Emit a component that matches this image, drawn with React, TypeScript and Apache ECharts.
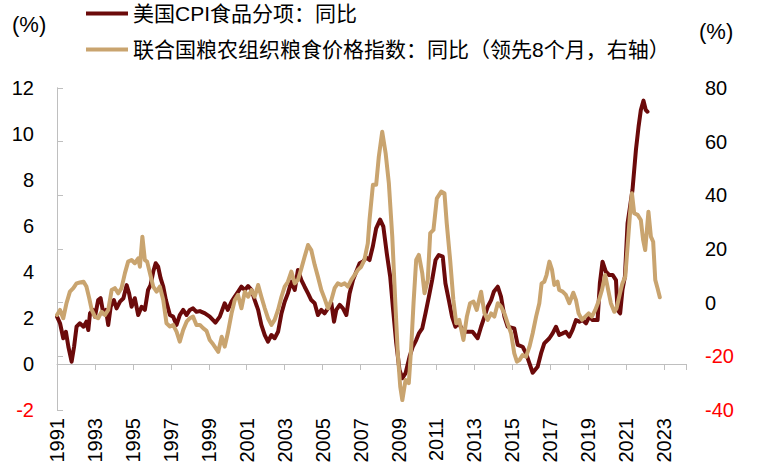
import React, { useEffect, useRef } from 'react';
import * as echarts from 'echarts';

const BASE_YEAR = 1991;
const yearLabels = ['1991', '1993', '1995', '1997', '1999', '2001', '2003', '2005', '2007', '2009', '2011', '2013', '2015', '2017', '2019', '2021', '2023'];
const leftTicks = [-2, 0, 2, 4, 6, 8, 10, 12];
const rightTicks = [-40, -20, 0, 20, 40, 60, 80];
const seriesNames = ['美国CPI食品分项：同比', '联合国粮农组织粮食价格指数：同比（领先8个月，右轴）'];

const cpiYears = [
  1991.0, 1991.16, 1991.33, 1991.47, 1991.6, 1991.77, 1991.9, 1992.03, 1992.2, 1992.4, 1992.55, 1992.65, 1992.74, 1992.9,
  1993.0, 1993.17, 1993.3, 1993.44, 1993.58, 1993.7, 1993.83, 1994.0, 1994.14, 1994.32, 1994.5, 1994.67, 1994.8, 1994.93,
  1995.1, 1995.28, 1995.46, 1995.63, 1995.8, 1995.93, 1996.07, 1996.2, 1996.33, 1996.46, 1996.6, 1996.74, 1996.95,
  1997.12, 1997.3, 1997.47, 1997.65, 1997.83, 1998.0, 1998.17, 1998.35, 1998.53, 1998.8, 1999.05, 1999.35, 1999.58,
  1999.84, 2000.0, 2000.2, 2000.37, 2000.54, 2000.72, 2000.9, 2001.07, 2001.25, 2001.42, 2001.6, 2001.77, 2001.95,
  2002.12, 2002.3, 2002.47, 2002.65, 2002.83, 2003.0, 2003.17, 2003.35, 2003.53, 2003.7, 2003.88, 2004.05, 2004.23,
  2004.4, 2004.58, 2004.75, 2004.93, 2005.1, 2005.28, 2005.46, 2005.6, 2005.72, 2005.9, 2006.07, 2006.25, 2006.42,
  2006.6, 2006.77, 2006.95, 2007.12, 2007.3, 2007.47, 2007.65, 2007.82, 2008.03, 2008.2, 2008.38, 2008.56, 2008.7,
  2008.88, 2009.05, 2009.2, 2009.37, 2009.58, 2009.75, 2009.93, 2010.07, 2010.25, 2010.42, 2010.6, 2010.77, 2010.95,
  2011.12, 2011.33, 2011.47, 2011.65, 2011.82, 2012.0, 2012.17, 2012.38, 2012.56, 2012.9, 2013.17, 2013.35, 2013.53,
  2013.7, 2013.88, 2014.02, 2014.23, 2014.4, 2014.58, 2014.75, 2014.95, 2015.1, 2015.28, 2015.54, 2015.72, 2015.9,
  2016.07, 2016.33, 2016.51, 2016.68, 2016.95, 2017.12, 2017.3, 2017.47, 2017.65, 2017.82, 2018.0, 2018.17, 2018.35,
  2018.53, 2018.7, 2018.88, 2019.05, 2019.23, 2019.49, 2019.61, 2019.75, 2019.93, 2020.1, 2020.28, 2020.46, 2020.54,
  2020.68, 2020.8, 2020.93, 2021.07, 2021.2, 2021.33, 2021.51, 2021.65, 2021.77, 2021.91, 2022.03, 2022.12,
];
const cpiValues = [
  2.06, 1.77, 1.12, 1.4, 0.75, 0.1, 0.75, 1.62, 1.77, 1.62, 1.84, 1.48, 2.2, 2.35,
  2.06, 2.78, 2.86, 2.2, 2.35, 1.7, 2.49, 2.78, 2.42, 2.71, 2.86, 3.43, 3.07, 2.49,
  2.86, 2.13, 2.49, 2.35, 3.22, 3.43, 4.01, 4.38, 4.23, 3.73, 3.36, 2.78, 2.13,
  2.06, 1.7, 2.13, 2.35, 2.13, 2.35, 2.42, 2.27, 2.3, 2.2, 2.06, 1.8, 2.06,
  2.64, 2.35, 2.71, 2.93, 3.14, 3.36, 3.22, 3.39, 3.22, 2.78, 2.35, 1.7, 1.26,
  0.97, 1.26, 1.12, 1.4, 2.2, 2.71, 3.07, 3.58, 3.22, 4.09, 3.65, 3.36, 3.07,
  2.78, 2.64, 2.13, 2.35, 2.2, 2.42, 2.64, 1.84, 2.35, 2.57, 2.42, 2.13, 3.07,
  3.65, 4.01, 4.38, 4.45, 4.63, 4.52, 5.13, 5.9, 6.28, 5.97, 4.81, 3.8, 2.49,
  0.9, -0.26, -0.62, -0.4, 0.32, 0.75, 1.04, 1.33, 1.55, 2.2, 2.93, 3.65, 4.52,
  4.74, 4.67, 3.51, 2.78, 2.06, 1.62, 1.77, 1.48, 1.4, 1.4, 1.12, 1.62, 2.06,
  2.49, 2.78, 3.14, 3.36, 2.93, 2.06, 1.62, 1.58, 1.55, 0.83, 0.75, 0.46, 0.03,
  -0.38, -0.12, 0.46, 0.9, 1.12, 1.33, 1.62, 1.26, 1.33, 1.4, 1.19, 1.48, 1.91,
  1.84, 1.91, 1.77, 2.06, 1.91, 1.91, 3.51, 4.45, 4.01, 3.87, 3.87, 3.65, 2.35,
  2.2, 3.22, 3.8, 6.12, 6.84, 7.57, 9.3, 10.32, 11.04, 11.45, 11.04, 10.97,
];

const faoYears = [
  1991.0, 1991.16, 1991.33, 1991.5, 1991.68, 1991.86, 1992.03, 1992.2, 1992.4, 1992.55, 1992.7, 1992.83, 1993.0,
  1993.17, 1993.35, 1993.53, 1993.7, 1993.88, 1994.05, 1994.23, 1994.4, 1994.58, 1994.75, 1994.93, 1995.1, 1995.28,
  1995.37, 1995.5, 1995.63, 1995.75, 1995.9, 1996.07, 1996.25, 1996.42, 1996.6, 1996.77, 1996.95, 1997.12, 1997.3,
  1997.47, 1997.65, 1997.83, 1998.0, 1998.17, 1998.35, 1998.53, 1998.7, 1998.88, 1999.05, 1999.23, 1999.5, 1999.68,
  1999.84, 2000.0, 2000.2, 2000.37, 2000.54, 2000.72, 2000.9, 2001.07, 2001.25, 2001.42, 2001.6, 2001.77, 2001.95,
  2002.12, 2002.3, 2002.47, 2002.65, 2002.83, 2003.0, 2003.17, 2003.35, 2003.53, 2003.7, 2003.88, 2004.05, 2004.23,
  2004.4, 2004.58, 2004.75, 2004.93, 2005.1, 2005.28, 2005.46, 2005.63, 2005.8, 2005.98, 2006.16, 2006.33, 2006.51,
  2006.68, 2006.86, 2007.03, 2007.2, 2007.38, 2007.47, 2007.65, 2007.82, 2007.96, 2008.14, 2008.32, 2008.49, 2008.67,
  2008.84, 2008.96, 2009.09, 2009.2, 2009.37, 2009.54, 2009.67, 2009.79, 2009.93, 2010.07, 2010.25, 2010.37, 2010.54,
  2010.67, 2010.84, 2011.02, 2011.25, 2011.42, 2011.54, 2011.72, 2011.89, 2012.04, 2012.2, 2012.42, 2012.6, 2012.77,
  2012.95, 2013.12, 2013.35, 2013.53, 2013.7, 2013.88, 2014.05, 2014.23, 2014.4, 2014.58, 2014.75, 2014.93, 2015.1,
  2015.24, 2015.37, 2015.54, 2015.72, 2015.9, 2016.07, 2016.25, 2016.42, 2016.54, 2016.68, 2016.8, 2016.95, 2017.09,
  2017.21, 2017.38, 2017.47, 2017.65, 2017.82, 2018.0, 2018.21, 2018.35, 2018.49, 2018.67, 2018.84, 2019.02, 2019.19,
  2019.37, 2019.54, 2019.72, 2019.89, 2020.03, 2020.19, 2020.37, 2020.49, 2020.67, 2020.8, 2020.95, 2021.07, 2021.2,
  2021.3, 2021.42, 2021.6, 2021.77, 2021.89, 2022.0, 2022.09, 2022.17, 2022.3, 2022.42, 2022.53, 2022.65, 2022.77,
];
const faoValues = [
  -4.6, -2.7, -5.8, -0.2, 4.1, 5.4, 7.2, 7.5, 7.8, 6.0, 1.6, -2.7, -5.2,
  -5.8, -3.4, -4.6, -2.7, 4.7, 5.4, 3.5, 5.4, 11.0, 15.3, 15.9, 14.7, 16.5,
  13.4, 24.6, 15.9, 15.3, 11.0, 6.0, 4.1, 6.0, 1.0, -7.7, -8.9, -8.3, -10.8,
  -14.5, -10.2, -7.1, -5.8, -5.2, -8.3, -8.3, -9.5, -10.5, -13.9, -15.5, -18.3, -12.7,
  -16.4, -11.4, -4.0, 1.0, 2.9, -2.1, 4.1, 2.2, 4.7, 2.2, 6.6, 2.2, -2.1,
  -5.8, -8.3, -6.4, -2.7, 2.2, 6.0, 7.8, 11.6, 7.2, 8.5, 12.8, 17.1, 21.5,
  19.6, 14.1, 9.7, 4.7, 1.6, -2.1, 1.0, 5.4, 7.2, 6.6, 7.2, 6.0, 8.5,
  10.3, 12.2, 13.4, 15.9, 22.1, 30.8, 43.9, 43.9, 54.4, 63.7, 55.7, 44.5, 24.6,
  -1.5, -18.9, -31.3, -36.3, -28.8, -30.0, -16.4, -0.2, 15.9, 17.8, 11.0, 3.5, 8.5,
  25.9, 27.1, 38.9, 41.4, 40.8, 29.6, 15.9, 1.0, -7.7, -6.4, -13.9, -5.2, -0.2,
  0.4, -2.7, 4.1, -4.0, -6.4, -4.0, -5.2, -0.2, -1.5, -4.0, -7.7, -11.4, -18.9,
  -22.0, -21.4, -19.5, -20.1, -16.4, -11.4, -5.2, -0.2, 7.2, 7.8, 10.3, 15.3, 12.2,
  6.6, 7.8, 4.7, 4.1, 2.9, -0.2, 3.7, 1.0, -4.0, -6.4, -5.2, -4.0, -5.2,
  -2.7, 0.4, 4.7, 10.3, 5.4, -0.2, -3.4, -2.1, 3.5, 7.2, 9.7, 20.9, 33.3,
  40.8, 33.3, 32.7, 30.8, 23.4, 19.6, 27.1, 33.9, 24.6, 22.7, 8.5, 5.4, 2.0,
];

const FONT = '"Liberation Sans", Arial, "Noto Sans CJK SC", sans-serif';
const AXIS_COLOR = '#BFBFBF';
const CPI_COLOR = '#6B0A0A';
const FAO_COLOR = '#C9A46F';

export default function App() {
  const ref = useRef<HTMLDivElement>(null);

  useEffect(() => {
    if (!ref.current) return;
    const chart = echarts.init(ref.current, undefined, { renderer: 'svg' });

    const cpiData = cpiYears.map((y, i) => [y - BASE_YEAR, cpiValues[i]]);
    const faoData = faoYears.map((y, i) => [y - BASE_YEAR, faoValues[i]]);
    const xMax = 33.15;
    const labelColor = (v: any) => (Number(v) < 0 ? '#FF0000' : '#000000');
    const yearFormatter = (v: number) => {
      const r = Math.round(v);
      if (Math.abs(v - r) > 1e-6 || r % 2 !== 0) return '';
      return yearLabels[r / 2] ?? '';
    };

    chart.setOption({
      animation: false,
      backgroundColor: '#ffffff',
      textStyle: { fontFamily: FONT },
      grid: { left: 57, right: 74, top: 88, bottom: 66, containLabel: false },
      legend: [
        {
          data: [seriesNames[0]],
          left: 86,
          top: 3,
          padding: 0,
          icon: 'rect',
          itemWidth: 42,
          itemHeight: 4,
          selectedMode: false,
          textStyle: { fontSize: 21, color: '#000', fontFamily: FONT },
        },
        {
          data: [seriesNames[1]],
          left: 86,
          top: 39,
          padding: 0,
          icon: 'rect',
          itemWidth: 42,
          itemHeight: 4,
          selectedMode: false,
          textStyle: { fontSize: 21, color: '#000', fontFamily: FONT },
        },
      ],
      graphic: [
        { type: 'text', left: 12, top: 13, style: { text: '(%)', fontSize: 22, fill: '#000', fontFamily: FONT } },
        { type: 'text', left: 699, top: 20, style: { text: '(%)', fontSize: 22, fill: '#000', fontFamily: FONT } },
      ],
      xAxis: [
        {
          type: 'value',
          min: 0,
          max: xMax,
          interval: 2,
          position: 'bottom',
          axisLine: { show: true, onZero: true, onZeroAxisIndex: 0, lineStyle: { color: AXIS_COLOR, width: 1 } },
          axisTick: { show: true, length: 6, lineStyle: { color: AXIS_COLOR, width: 1 } },
          axisLabel: { show: false },
          splitLine: { show: false },
        },
        {
          type: 'value',
          min: 0,
          max: xMax,
          interval: 2,
          position: 'bottom',
          axisLine: { show: false, onZero: false },
          axisTick: { show: false },
          splitLine: { show: false },
          axisLabel: {
            show: true,
            rotate: 90,
            margin: 8,
            fontSize: 20,
            color: '#000',
            fontFamily: FONT,
            formatter: yearFormatter,
          },
        },
      ],
      yAxis: [
        {
          type: 'value',
          position: 'left',
          min: leftTicks[0],
          max: leftTicks[leftTicks.length - 1],
          interval: leftTicks[1] - leftTicks[0],
          axisLine: { show: true, lineStyle: { color: AXIS_COLOR, width: 1 } },
          axisTick: { show: false },
          splitLine: { show: false },
          axisLabel: { fontSize: 20, margin: 23, color: labelColor, fontFamily: FONT },
        },
        {
          type: 'value',
          position: 'right',
          min: rightTicks[0],
          max: rightTicks[rightTicks.length - 1],
          interval: rightTicks[1] - rightTicks[0],
          axisLine: { show: true, lineStyle: { color: AXIS_COLOR, width: 1 } },
          axisTick: { show: true, length: 6, lineStyle: { color: AXIS_COLOR, width: 1 } },
          splitLine: { show: false },
          axisLabel: { fontSize: 20, margin: 19, color: labelColor, fontFamily: FONT },
        },
      ],
      series: [
        {
          name: seriesNames[0],
          type: 'line',
          xAxisIndex: 0,
          yAxisIndex: 0,
          data: cpiData,
          showSymbol: false,
          symbol: 'none',
          color: CPI_COLOR,
          lineStyle: { color: CPI_COLOR, width: 4, join: 'round', cap: 'round' },
          z: 2,
        },
        {
          name: seriesNames[1],
          type: 'line',
          xAxisIndex: 0,
          yAxisIndex: 1,
          data: faoData,
          showSymbol: false,
          symbol: 'none',
          color: FAO_COLOR,
          lineStyle: { color: FAO_COLOR, width: 4, join: 'round', cap: 'round' },
          z: 3,
        },
      ],
    });

    return () => {
      chart.dispose();
    };
  }, []);

  return (
    <div
      ref={ref}
      style={{ position: 'fixed', left: 0, top: 0, width: 760, height: 476, background: '#fff' }}
    />
  );
}
